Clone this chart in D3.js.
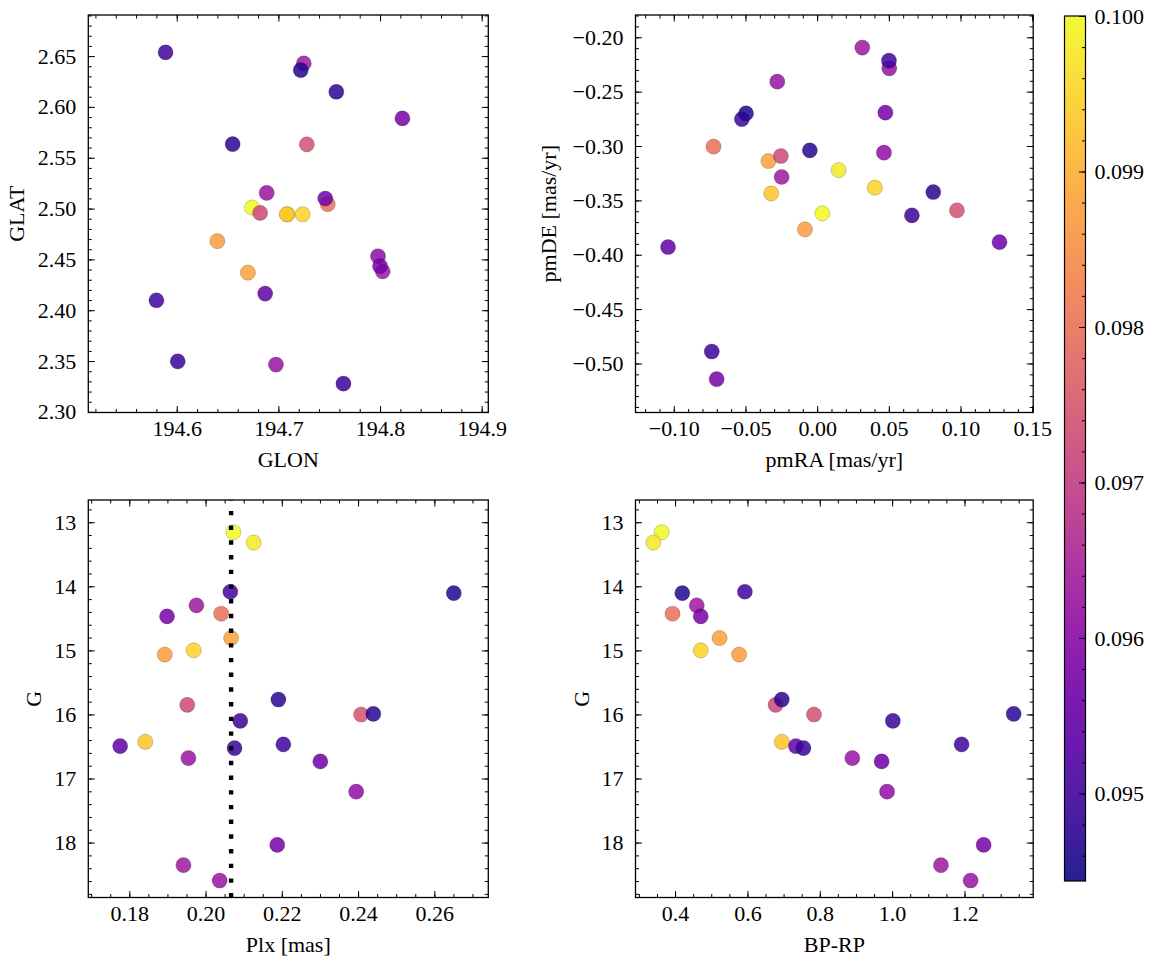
<!DOCTYPE html>
<html><head><meta charset="utf-8">
<script src="https://cdn.jsdelivr.net/npm/d3@7"></script>
<style>body{margin:0;background:#fff} svg{display:block} svg text{font-family:"Liberation Serif",serif !important;}</style>
</head><body><svg id="c" width="1155" height="965"></svg>
<script>
// ---- data (one entry per star) ----
const glon = [194.674, 194.709, 194.7239, 194.7082, 194.670, 194.640, 194.7485, 194.682, 194.728, 194.725, 194.6885, 194.798, 194.8026, 194.6976, 194.822, 194.687, 194.7461, 194.800, 194.589, 194.722, 194.655, 194.757, 194.764, 194.601, 194.580];
const glat = [2.5010, 2.4944, 2.4944, 2.4944, 2.4370, 2.4679, 2.5043, 2.4957, 2.5631, 2.6428, 2.5154, 2.4531, 2.4383, 2.3465, 2.5887, 2.4164, 2.5099, 2.4435, 2.6536, 2.6362, 2.5634, 2.6149, 2.3278, 2.3497, 2.4098];
const pmra = [0.0036, 0.0150, 0.0402, -0.0320, -0.0340, -0.0085, -0.0723, -0.0253, 0.0975, 0.0315, -0.0278, 0.0466, -0.0248, 0.0503, 0.0476, -0.1040, 0.1272, -0.0701, -0.0525, -0.0496, -0.0051, 0.0810, 0.0661, -0.0735, 0.0501];
const pmde = [-0.3620, -0.3221, -0.3383, -0.3436, -0.3138, -0.3767, -0.3006, -0.3092, -0.3592, -0.2095, -0.2408, -0.3061, -0.3285, -0.2285, -0.2693, -0.3929, -0.3884, -0.5144, -0.2752, -0.2700, -0.3040, -0.3423, -0.3638, -0.4890, -0.2215];
const plx  = [0.2073, 0.2126, 0.1969, 0.1842, 0.2067, 0.1893, 0.2041, 0.1952, 0.2408, 0.1976, 0.1955, 0.2395, 0.1942, 0.2037, 0.1899, 0.1776, 0.2301, 0.2188, 0.2065, 0.2651, 0.2191, 0.2440, 0.2091, 0.2076, 0.2204];
const gmag = [13.156, 13.317, 14.999, 16.427, 14.807, 15.066, 14.428, 15.850, 16.001, 14.298, 16.681, 17.206, 18.353, 18.592, 14.469, 16.494, 16.733, 18.036, 14.085, 14.106, 15.767, 15.991, 16.100, 16.525, 16.468];
const bprp = [0.363, 0.340, 0.471, 0.695, 0.523, 0.577, 0.393, 0.678, 0.784, 0.460, 0.890, 0.986, 1.135, 1.217, 0.471, 0.734, 0.971, 1.253, 0.593, 0.420, 0.695, 1.336, 1.002, 0.755, 1.192];
const prob = [0.1000, 0.0998, 0.0995, 0.0993, 0.0988, 0.0987, 0.0980, 0.0972, 0.0974, 0.0963, 0.0962, 0.0961, 0.0963, 0.0962, 0.0957, 0.0954, 0.0956, 0.0957, 0.0950, 0.0946, 0.0947, 0.0947, 0.0949, 0.0949, 0.0950];
const cbarTicks = [0.095, 0.096, 0.097, 0.098, 0.099, 0.100];
const cmin = 0.094437, cmax = 0.1000;

const stars = d3.range(glon.length).map(i => ({glon:glon[i], glat:glat[i], pmra:pmra[i], pmde:pmde[i], plx:plx[i], g:gmag[i], bprp:bprp[i], p:prob[i]}))
  .sort((a,b) => b.p - a.p);

const FONT = "Liberation Serif";
const svg = d3.select('#c');
const FS = 22;
const color = d3.scaleSequential(d3.interpolatePlasma).domain([cmin, cmax]);

function stepTicks(dom, step){
  const lo = Math.min(...dom), hi = Math.max(...dom);
  const a = Math.ceil(lo/step - 1e-6), b = Math.floor(hi/step + 1e-6);
  return d3.range(a, b+1).map(i => +(i*step).toFixed(8));
}
const style = sel => { sel.select('.domain').remove(); sel.attr('font-family', null).attr('font-size', FS);
  sel.selectAll('line').attr('stroke', '#000').attr('stroke-width', 1);
  sel.selectAll('text').attr('fill','#000').style('font-family', FONT); };

function panel(o){
  const g = svg.append('g');
  const xs = d3.scaleLinear().domain(o.xd).range(o.xr);
  const ys = d3.scaleLinear().domain(o.yd).range(o.yr);
  const [x0,x1] = o.xr, [y0,y1] = [Math.min(...o.yr), Math.max(...o.yr)];
  const xMaj = stepTicks(o.xd, o.xstep), xMin = stepTicks(o.xd, o.xminor);
  const yMaj = stepTicks(o.yd, o.ystep), yMin = stepTicks(o.yd, o.yminor);
  // minor ticks
  g.append('g').attr('transform',`translate(0,${y1})`).call(d3.axisBottom(xs).tickValues(xMin).tickFormat('').tickSizeInner(-3.5).tickSizeOuter(0)).call(style);
  g.append('g').attr('transform',`translate(0,${y0})`).call(d3.axisTop(xs).tickValues(xMin).tickFormat('').tickSizeInner(-3.5).tickSizeOuter(0)).call(style);
  g.append('g').attr('transform',`translate(${x0},0)`).call(d3.axisLeft(ys).tickValues(yMin).tickFormat('').tickSizeInner(-3.5).tickSizeOuter(0)).call(style);
  g.append('g').attr('transform',`translate(${x1},0)`).call(d3.axisRight(ys).tickValues(yMin).tickFormat('').tickSizeInner(-3.5).tickSizeOuter(0)).call(style);
  // major ticks
  g.append('g').attr('transform',`translate(0,${y1})`).call(d3.axisBottom(xs).tickValues(xMaj).tickFormat(d3.format(o.xfmt)).tickSizeInner(-6.5).tickSizeOuter(0).tickPadding(8)).call(style);
  g.append('g').attr('transform',`translate(0,${y0})`).call(d3.axisTop(xs).tickValues(xMaj).tickFormat('').tickSizeInner(-6.5).tickSizeOuter(0)).call(style);
  g.append('g').attr('transform',`translate(${x0},0)`).call(d3.axisLeft(ys).tickValues(yMaj).tickFormat(d3.format(o.yfmt)).tickSizeInner(-6.5).tickSizeOuter(0).tickPadding(12)).call(style);
  g.append('g').attr('transform',`translate(${x1},0)`).call(d3.axisRight(ys).tickValues(yMaj).tickFormat('').tickSizeInner(-6.5).tickSizeOuter(0)).call(style);
  // points
  g.append('g').selectAll('circle').data(stars).join('circle')
    .attr('cx', d => xs(d[o.xk])).attr('cy', d => ys(d[o.yk])).attr('r', 7.6)
    .attr('fill', d => color(d.p)).attr('fill-opacity', 0.85)
    .attr('stroke', '#000').attr('stroke-opacity', 0.3).attr('stroke-width', 0.6);
  if (o.vline !== undefined){
    g.append('line').attr('x1', xs(o.vline)).attr('x2', xs(o.vline)).attr('y1', y1).attr('y2', y0)
      .attr('stroke', '#000').attr('stroke-width', 4.4).attr('stroke-dasharray', '4.4 10.3');
  }
  g.append('rect').attr('x', x0).attr('y', y0).attr('width', x1-x0).attr('height', y1-y0)
    .attr('fill', 'none').attr('stroke', '#000').attr('stroke-width', 1.3);
  g.append('text').attr('x', (x0+x1)/2).attr('y', y1+47).attr('dy', '0.35em').attr('text-anchor','middle')
    .style('font-family', FONT).attr('font-size', FS).text(o.xlabel);
  g.append('text').attr('transform', `translate(${o.ylx},${(y0+y1)/2}) rotate(-90)`).attr('dy','0.35em')
    .attr('text-anchor','middle').style('font-family', FONT).attr('font-size', FS).text(o.ylabel);
}

const LX = [88.3, 488.3], RX = [635.5, 1033.2];
const TY = [412.5, 15], BY = [500, 897.5];

panel({xd:[194.513, 194.9065], yd:[2.2994, 2.6904], xr:LX, yr:TY, xk:'glon', yk:'glat',
  xstep:0.1, xminor:0.02, ystep:0.05, yminor:0.01, xfmt:'.1f', yfmt:'.2f', xlabel:'GLON', ylabel:'GLAT', ylx:16});
panel({xd:[-0.1267, 0.1507], yd:[-0.5451, -0.1795], xr:RX, yr:TY, xk:'pmra', yk:'pmde',
  xstep:0.05, xminor:0.01, ystep:0.05, yminor:0.01, xfmt:'.2f', yfmt:'.2f', xlabel:'pmRA [mas/yr]', ylabel:'pmDE [mas/yr]', ylx:548});
panel({xd:[0.16925, 0.27415], yd:[12.653, 18.857], xr:LX, yr:BY, xk:'plx', yk:'g',
  xstep:0.02, xminor:0.005, ystep:1, yminor:0.2, xfmt:'.2f', yfmt:'d', xlabel:'Plx [mas]', ylabel:'G', ylx:33, vline:d3.median(plx)});
panel({xd:[0.2906, 1.390], yd:[12.653, 18.857], xr:RX, yr:BY, xk:'bprp', yk:'g',
  xstep:0.2, xminor:0.05, ystep:1, yminor:0.2, xfmt:'.1f', yfmt:'d', xlabel:'BP-RP', ylabel:'G', ylx:581});

// ---- colorbar ----
const cb = {x0:1064.5, x1:1085.5, y0:16, y1:881};
const defs = svg.append('defs');
const grad = defs.append('linearGradient').attr('id','plasma').attr('x1',0).attr('y1',1).attr('x2',0).attr('y2',0);
d3.range(0, 1.0001, 0.05).forEach(t => grad.append('stop').attr('offset', t).attr('stop-color', d3.interpolatePlasma(t)));
svg.append('rect').attr('x', cb.x0).attr('y', cb.y0).attr('width', cb.x1-cb.x0).attr('height', cb.y1-cb.y0)
  .attr('fill','url(#plasma)').attr('fill-opacity', 0.9);
const cs = d3.scaleLinear().domain([cmin, cmax]).range([cb.y1, cb.y0]);
svg.append('g').attr('transform',`translate(${cb.x1},0)`)
  .call(d3.axisRight(cs).tickValues(stepTicks([cmin,cmax], 0.0002)).tickFormat('').tickSizeInner(-3.5).tickSizeOuter(0)).call(style);
svg.append('g').attr('transform',`translate(${cb.x1},0)`)
  .call(d3.axisRight(cs).tickValues(cbarTicks).tickFormat(d3.format('.3f')).tickSizeInner(-6.5).tickSizeOuter(0).tickPadding(9)).call(style);
svg.append('rect').attr('x', cb.x0).attr('y', cb.y0).attr('width', cb.x1-cb.x0).attr('height', cb.y1-cb.y0)
  .attr('fill','none').attr('stroke','#000').attr('stroke-width',1.2);
</script></body></html>
